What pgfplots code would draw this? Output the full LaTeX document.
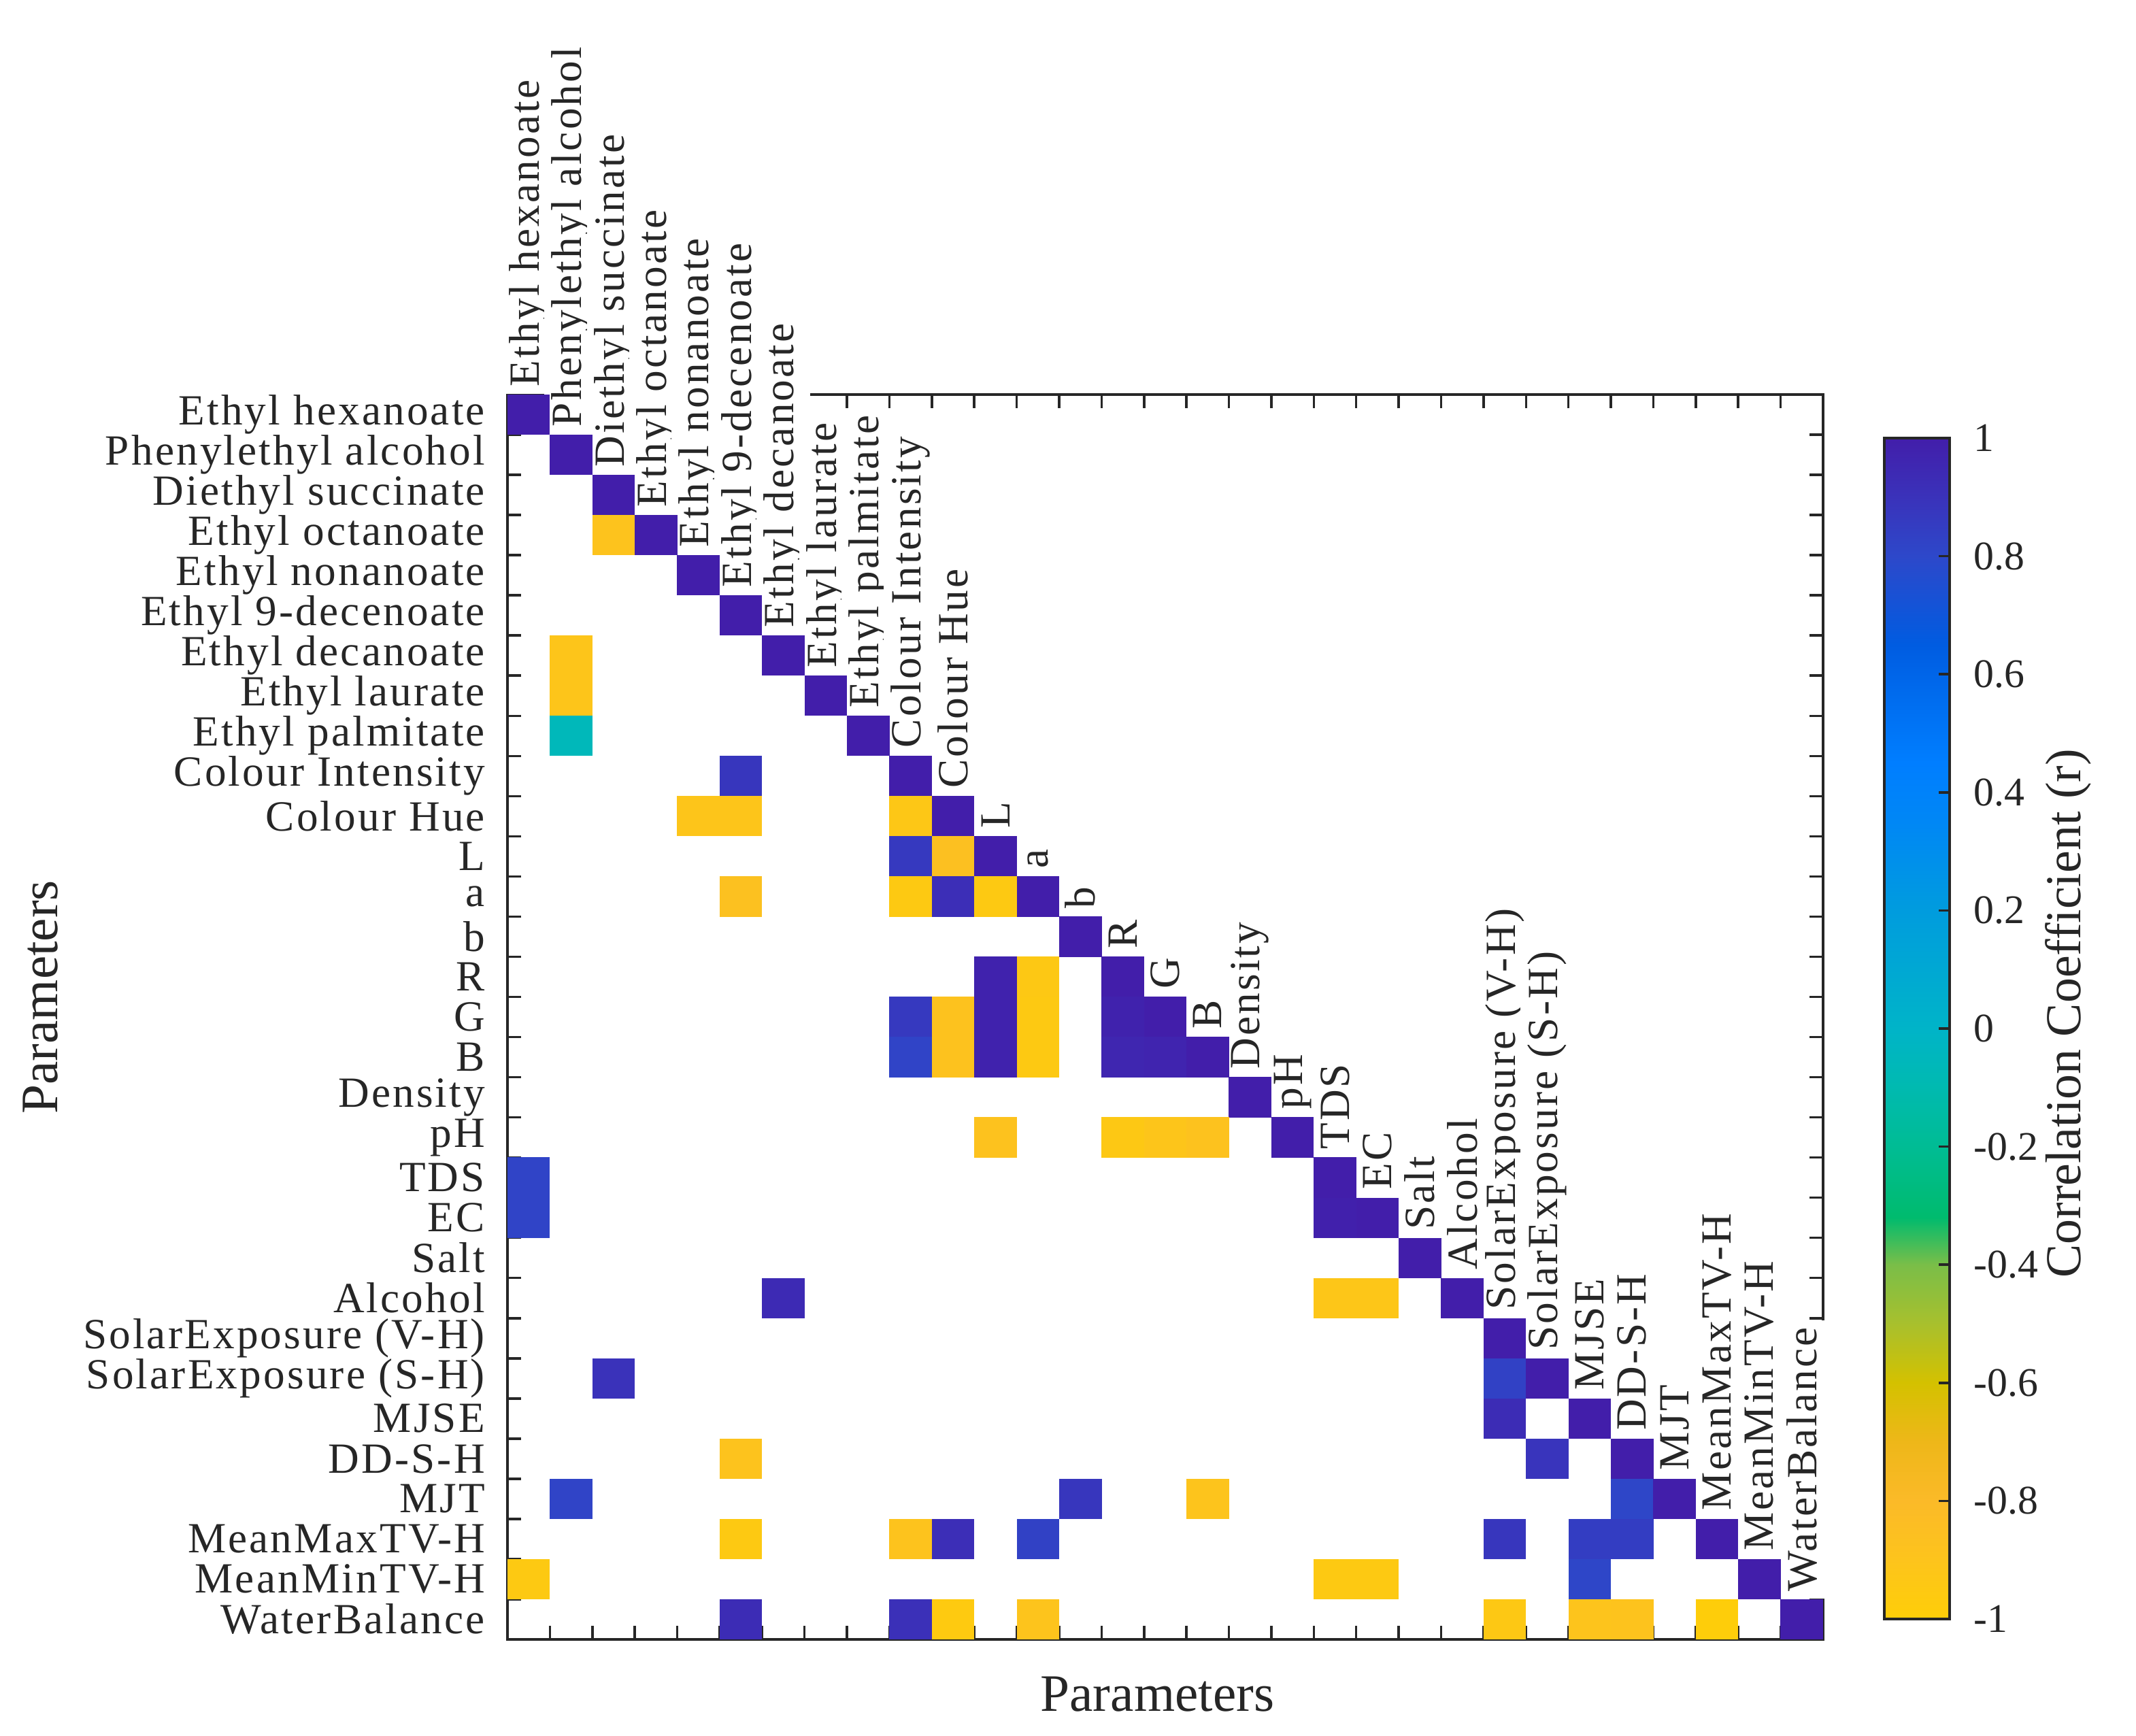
\documentclass[border=0pt]{standalone}
\usepackage{fontspec}
\setmainfont{Liberation Serif}
\newfontfamily\lblfont{Liberation Serif}[LetterSpace=5.0]
\usepackage{pgfplots}
\pgfplotsset{compat=1.18}

% yellow (r=-1) to dark blue (r=1); positions are (r+1)*100pt
\pgfplotsset{colormap={corr}{
    rgb255(0pt)=(254,206,8)
    rgb255(10pt)=(253,196,28)
    rgb255(20pt)=(251,186,40)
    rgb255(30pt)=(238,183,25)
    rgb255(40pt)=(212,193,0)
    rgb255(50pt)=(168,192,45)
    rgb255(60pt)=(122,190,72)
    rgb255(68pt)=(0,187,110)
    rgb255(80pt)=(0,188,148)
    rgb255(90pt)=(0,186,176)
    rgb255(100pt)=(0,180,200)
    rgb255(120pt)=(0,156,222)
    rgb255(135pt)=(0,135,245)
    rgb255(145pt)=(0,126,255)
    rgb255(155pt)=(0,110,240)
    rgb255(165pt)=(0,92,225)
    rgb255(180pt)=(45,72,202)
    rgb255(190pt)=(58,50,186)
    rgb255(200pt)=(66,30,170)
}}

% one heatmap cell (axis is 9.67cm x 9.15cm, 31 x 31 cells)
\pgfdeclareplotmark{cell}{%
  \pgfpathrectangle{\pgfpoint{-0.1565cm}{-0.1482cm}}{\pgfpoint{0.3130cm}{0.2964cm}}%
  \pgfusepathqfill}

\definecolor{axgray}{gray}{0.15}

\begin{document}
\begin{tikzpicture}[
  diag/.style={rotate=90, anchor=west, fill=white, inner sep=1.5pt,
    font=\lblfont\fontsize{9}{11}\selectfont, text=axgray},
]
\begin{axis}[
  name=ax,
  scale only axis,
  width=9.67cm, height=9.15cm,
  xmin=0.5, xmax=31.5, ymin=0.5, ymax=31.5,
  y dir=reverse,
  clip=false,
  xtick={1,...,31}, xticklabels={},
  ytick={1,...,31},
  yticklabels={Ethyl hexanoate, Phenylethyl alcohol, Diethyl succinate,
    Ethyl octanoate, Ethyl nonanoate, Ethyl 9-decenoate, Ethyl decanoate,
    Ethyl laurate, Ethyl palmitate, Colour Intensity, Colour Hue, L, a, b,
    R, G, B, Density, pH, TDS, EC, Salt, Alcohol, SolarExposure (V-H),
    SolarExposure (S-H), MJSE, DD-S-H, MJT, MeanMaxTV-H, MeanMinTV-H,
    WaterBalance},
  minor x tick num=1, minor y tick num=1,
  major tick length=0pt, minor tick length=0.1cm,
  tick align=inside,
  axis line style={axgray, line width=0.5pt},
  every tick/.style={axgray, line width=0.5pt},
  yticklabel style={font=\lblfont\fontsize{9}{11}\selectfont, text=axgray,
    inner sep=0pt, xshift=-4.5pt},
  xlabel={Parameters}, ylabel={Parameters},
  every axis x label/.style={at={(axis description cs:0.494,-0.044)}, anchor=center,
    font=\fontsize{11}{13}\selectfont, text=axgray},
  every axis y label/.style={at={(axis description cs:-0.355,0.516)}, rotate=90,
    anchor=center, font=\fontsize{11}{13}\selectfont, text=axgray},
  point meta min=-1, point meta max=1,
]
% column names along the diagonal (drawn first so the cells sit on top)
\node[diag] at (axis cs:1,0.5) {Ethyl hexanoate};
\node[diag] at (axis cs:2,1.5) {Phenylethyl alcohol};
\node[diag] at (axis cs:3,2.5) {Diethyl succinate};
\node[diag] at (axis cs:4,3.5) {Ethyl octanoate};
\node[diag] at (axis cs:5,4.5) {Ethyl nonanoate};
\node[diag] at (axis cs:6,5.5) {Ethyl 9-decenoate};
\node[diag] at (axis cs:7,6.5) {Ethyl decanoate};
\node[diag] at (axis cs:8,7.5) {Ethyl laurate};
\node[diag] at (axis cs:9,8.5) {Ethyl palmitate};
\node[diag] at (axis cs:10,9.5) {Colour Intensity};
\node[diag] at (axis cs:11,10.5) {Colour Hue};
\node[diag] at (axis cs:12,11.5) {L};
\node[diag] at (axis cs:13,12.5) {a};
\node[diag] at (axis cs:14,13.5) {b};
\node[diag] at (axis cs:15,14.5) {R};
\node[diag] at (axis cs:16,15.5) {G};
\node[diag] at (axis cs:17,16.5) {B};
\node[diag] at (axis cs:18,17.5) {Density};
\node[diag] at (axis cs:19,18.5) {pH};
\node[diag] at (axis cs:20,19.5) {TDS};
\node[diag] at (axis cs:21,20.5) {EC};
\node[diag] at (axis cs:22,21.5) {Salt};
\node[diag] at (axis cs:23,22.5) {Alcohol};
\node[diag] at (axis cs:24,23.5) {SolarExposure (V-H)};
\node[diag] at (axis cs:25,24.5) {SolarExposure (S-H)};
\node[diag] at (axis cs:26,25.5) {MJSE};
\node[diag] at (axis cs:27,26.5) {DD-S-H};
\node[diag] at (axis cs:28,27.5) {MJT};
\node[diag] at (axis cs:29,28.5) {MeanMaxTV-H};
\node[diag] at (axis cs:30,29.5) {MeanMinTV-H};
\node[diag] at (axis cs:31,30.5) {WaterBalance};

% significant correlations: row, column, r
\addplot[scatter, only marks, mark=cell, point meta=explicit]
  table[x=c, y=r, meta=v] {
r c v
1 1 1
2 2 1
3 3 1
4 3 -0.89
4 4 1
5 5 1
6 6 1
7 2 -0.91
7 7 1
8 2 -0.91
8 8 1
9 2 -0.06
9 9 1
10 6 0.88
10 10 1
11 5 -0.91
11 6 -0.91
11 10 -0.93
11 11 1
12 10 0.87
12 11 -0.86
12 12 1
13 6 -0.87
13 10 -0.95
13 11 0.92
13 12 -0.95
13 13 1
14 14 1
15 12 0.98
15 13 -0.94
15 15 1
16 10 0.87
16 11 -0.88
16 12 0.98
16 13 -0.95
16 15 0.98
16 16 1
17 10 0.82
17 11 -0.88
17 12 0.98
17 13 -0.95
17 15 0.96
17 16 0.97
17 17 1
18 18 1
19 12 -0.88
19 15 -0.94
19 16 -0.91
19 17 -0.88
19 19 1
20 1 0.82
20 20 1
21 1 0.82
21 20 0.99
21 21 1
22 22 1
23 7 0.94
23 20 -0.92
23 21 -0.92
23 23 1
24 24 1
25 3 0.90
25 24 0.83
25 25 1
26 24 0.93
26 26 1
27 6 -0.89
27 25 0.89
27 27 1
28 2 0.82
28 14 0.88
28 17 -0.90
28 27 0.81
28 28 1
29 6 -0.95
29 10 -0.89
29 11 0.92
29 13 0.83
29 24 0.88
29 26 0.85
29 27 0.85
29 29 1
30 1 -0.95
30 20 -0.95
30 21 -0.95
30 26 0.81
30 30 1
31 6 0.93
31 10 0.91
31 11 -0.96
31 13 -0.90
31 24 -0.94
31 26 -0.90
31 27 -0.89
31 29 -0.99
31 31 1
};
\end{axis}

% colour bar
\begin{axis}[
  at={(ax.north east)}, anchor=north west,
  xshift=0.45cm, yshift=-0.32cm,
  scale only axis, width=0.48cm, height=8.68cm,
  xmin=0, xmax=1, ymin=-1, ymax=1,
  xtick=\empty,
  ytick={-1,-0.8,-0.6,-0.4,-0.2,0,0.2,0.4,0.6,0.8,1},
  ytick pos=right, yticklabel pos=right,
  tick align=inside, major tick length=0.08cm,
  axis on top,
  axis line style={axgray, line width=0.5pt},
  every tick/.style={axgray, line width=0.5pt},
  yticklabel style={font=\fontsize{8.5}{10}\selectfont, text=axgray, xshift=1.5pt,
    /pgf/number format/assume math mode=true},
  point meta min=-1, point meta max=1,
]
\addplot[surf, shader=interp, point meta=y, mesh/rows=2] coordinates {
(0,-1) (1,-1)

(0,1) (1,1)
};
\end{axis}
\node[rotate=90, font=\fontsize{10.5}{12}\selectfont, text=axgray]
  at ([shift={(1.80cm,-4.55cm)}]ax.north east) {Correlation Coefficient (r)};

\pgfresetboundingbox
\path[use as bounding box] ([shift={(-3.73cm,-0.71cm)}]ax.south west)
  rectangle ([shift={(11.97cm,12.05cm)}]ax.south west);
\end{tikzpicture}
\end{document}
